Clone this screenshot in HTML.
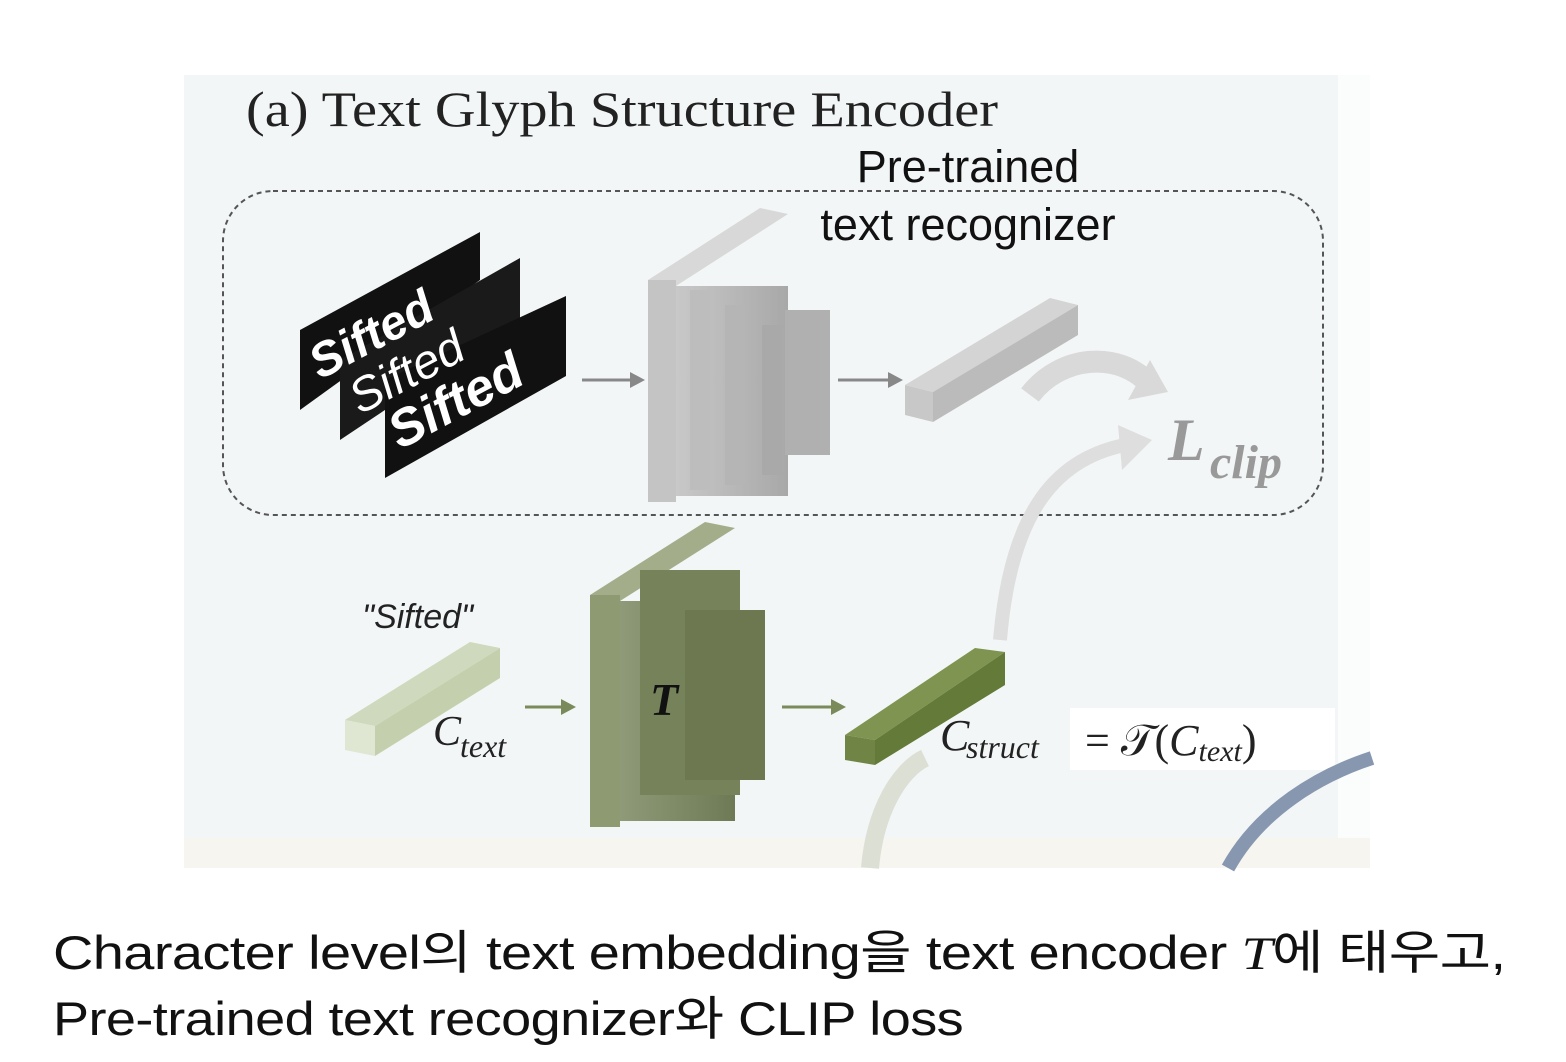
<!DOCTYPE html>
<html><head><meta charset="utf-8"><style>
body{margin:0;background:#fff;width:1566px;height:1062px;overflow:hidden;position:relative;font-family:"Liberation Sans","Noto Sans CJK KR",sans-serif}
.cap{position:absolute;left:53px;font-size:47px;color:#111;letter-spacing:-0.5px;transform-origin:0 0;white-space:nowrap}
</style></head><body>
<svg width="1566" height="1062" style="position:absolute;left:0;top:0">
<defs>
<linearGradient id="g1" x1="0" x2="1"><stop offset="0" stop-color="#c8c8c8"/><stop offset="1" stop-color="#a8a8a8"/></linearGradient>
<linearGradient id="g2" x1="0" x2="1"><stop offset="0" stop-color="#8f9a78"/><stop offset="1" stop-color="#6e7a55"/></linearGradient>
</defs>
<rect x="184" y="75" width="1154" height="763" fill="#f3f6f7"/>
<rect x="1338" y="75" width="32" height="763" fill="#fbfcfc"/>
<rect x="184" y="838" width="1186" height="30" fill="#f6f5ef"/>
<text x="246" y="126" font-family="Liberation Serif,serif" font-size="50" fill="#222" textLength="752" lengthAdjust="spacingAndGlyphs">(a) Text Glyph Structure Encoder</text>
<rect x="223" y="191" width="1100" height="324" rx="50" fill="none" stroke="#555" stroke-width="2" stroke-dasharray="5,4"/>
<text x="968" y="182" text-anchor="middle" font-size="45" fill="#111">Pre-trained</text>
<text x="968" y="240" text-anchor="middle" font-size="45" fill="#111">text recognizer</text>
<g>
<polygon points="300,330 480,232 480,280 300,410" fill="#111"/>
<polygon points="340,360 520,258 520,320 340,440" fill="#1a1a1a"/>
<polygon points="385,380 566,296 566,376 385,478" fill="#111"/>
<text x="320" y="380" font-size="48" font-style="italic" font-weight="bold" fill="#fff" transform="rotate(-28 320 380)">Sifted</text>
<text x="360" y="415" font-size="48" font-style="italic" fill="#fff" transform="rotate(-28 360 415)">Sifted</text>
<text x="400" y="450" font-size="52" font-style="italic" font-weight="bold" fill="#fff" transform="rotate(-28 400 450)">Sifted</text>
</g>
<g stroke="#888" stroke-width="3" fill="#888">
<line x1="582" y1="380" x2="635" y2="380"/><polygon points="645,380 630,372 630,388" stroke="none"/>
<line x1="838" y1="380" x2="893" y2="380"/><polygon points="903,380 888,372 888,388" stroke="none"/>
<line x1="525" y1="707" x2="565" y2="707" stroke="#7a8a5a"/><polygon points="576,707 561,699 561,715" fill="#7a8a5a" stroke="none"/>
<line x1="782" y1="707" x2="835" y2="707" stroke="#7a8a5a"/><polygon points="846,707 831,699 831,715" fill="#7a8a5a" stroke="none"/>
</g>
<polygon points="648,280 760,208 788,214 676,286" fill="#d8d8d8"/>
<rect x="648" y="280" width="28" height="222" fill="#c4c4c4"/>
<rect x="676" y="286" width="112" height="210" fill="url(#g1)"/>
<rect x="690" y="290" width="20" height="200" fill="#bdbdbd"/>
<rect x="725" y="305" width="20" height="180" fill="#b5b5b5"/>
<rect x="762" y="325" width="20" height="150" fill="#a9a9a9"/>
<rect x="785" y="310" width="45" height="145" fill="#b0b0b0"/>
<polygon points="905,385 1050,298 1078,305 933,392" fill="#d4d4d4"/>
<polygon points="905,385 933,392 933,422 905,415" fill="#c8c8c8"/>
<polygon points="933,392 1078,305 1078,335 933,422" fill="#bbb"/>
<path d="M1030,395 C1060,355 1120,350 1150,385" stroke="#d9d9d9" stroke-width="22" fill="none"/>
<polygon points="1168,392 1128,400 1150,360" fill="#d9d9d9"/>
<path d="M1000,640 C1010,520 1050,460 1125,445" stroke="#dedede" stroke-width="14" fill="none"/>
<polygon points="1152,440 1118,425 1122,470" fill="#dedede"/>
<text x="1168" y="460" font-family="Liberation Serif,serif" font-style="italic" font-weight="bold" font-size="60" fill="#999">L</text>
<text x="1210" y="478" font-family="Liberation Serif,serif" font-style="italic" font-weight="bold" font-size="48" fill="#999">clip</text>
<text x="362" y="628" font-size="34" font-style="italic" fill="#222">"Sifted"</text>
<polygon points="345,720 470,642 500,648 375,726" fill="#cfd9bd"/>
<polygon points="345,720 375,726 375,756 345,750" fill="#dfe6d2"/>
<polygon points="375,726 500,648 500,678 375,756" fill="#c4d0ad"/>
<text x="433" y="745" font-family="Liberation Serif,serif" font-style="italic" font-size="42" fill="#222">C</text>
<text x="460" y="757" font-family="Liberation Serif,serif" font-style="italic" font-size="32" fill="#222">text</text>
<polygon points="590,595 705,522 735,528 620,601" fill="#a3ad8a"/>
<rect x="590" y="595" width="30" height="232" fill="#8e9a72"/>
<rect x="620" y="601" width="115" height="220" fill="url(#g2)"/>
<rect x="640" y="570" width="100" height="225" fill="#76825a"/>
<rect x="685" y="610" width="80" height="170" fill="#6d7850"/>
<text x="650" y="715" font-family="Liberation Serif,serif" font-style="italic" font-weight="bold" font-size="46" fill="#111">T</text>
<polygon points="845,735 975,648 1005,652 875,740" fill="#7f9450"/>
<polygon points="845,735 875,740 875,765 845,760" fill="#6f8445"/>
<polygon points="875,740 1005,652 1005,685 875,765" fill="#637a38"/>
<rect x="1070" y="708" width="265" height="62" fill="#fff"/>
<text x="940" y="750" font-family="Liberation Serif,serif" font-style="italic" font-size="44" fill="#222">C</text>
<text x="966" y="758" font-family="Liberation Serif,serif" font-style="italic" font-size="32" fill="#222">struct</text>
<text x="1085" y="755" font-family="Liberation Serif,serif" font-size="44" fill="#222">= 𝒯(<tspan font-style="italic">C</tspan><tspan font-style="italic" font-size="30" dy="6">text</tspan><tspan dy="-6">)</tspan></text>
<path d="M870,868 C875,810 900,770 925,758" stroke="#dcdfd3" stroke-width="18" fill="none"/>
<path d="M1228,868 C1260,810 1320,775 1372,758" stroke="#8797b0" stroke-width="14" fill="none"/>
</svg>
<div class="cap" style="top:914px;transform:scaleX(1.19)">Character level의 text embedding을 text encoder <i style="font-family:'Liberation Serif',serif">T</i>에 태우고,</div>
<div class="cap" style="top:980px;transform:scaleX(1.15)">Pre-trained text recognizer와 CLIP loss</div>
</body></html>
